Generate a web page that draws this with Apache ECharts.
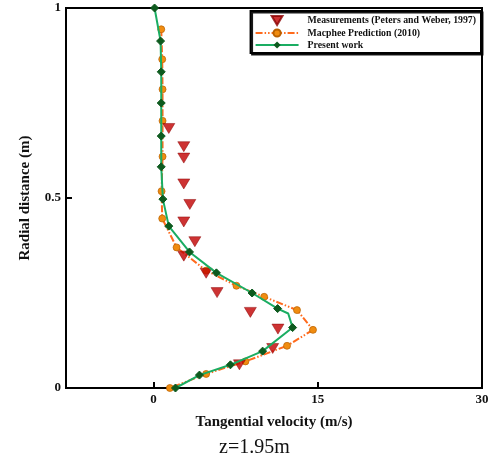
<!DOCTYPE html>
<html>
<head>
<meta charset="utf-8">
<script src="https://cdn.jsdelivr.net/npm/echarts@6/dist/echarts.min.js"></script>
<style>
  html, body { margin: 0; padding: 0; background: #fff; }
  #chart { width: 494px; height: 461px; }
</style>
</head>
<body>
<div id="chart"></div>
<script>
// Tangential velocity profiles at z = 1.95 m
const xTicks = [0, 15, 30];
const yTicks = [0, 0.5, 1];

// Measurements (Peters and Weber, 1997)
const measVel = [1.39, 2.76, 2.76, 2.76, 3.31, 2.76, 3.77, 2.76, 4.8, 5.8, 8.84, 11.36, 10.88, 7.84];
const measR   = [0.683, 0.635, 0.605, 0.537, 0.483, 0.437, 0.385, 0.347, 0.302, 0.251, 0.199, 0.155, 0.104, 0.061];

// Macphee prediction (2010)
const macVel = [0.70, 0.79, 0.82, 0.82, 0.82, 0.73, 0.79, 2.1, 4.8, 7.57, 10.1, 13.1, 14.56, 12.19, 8.39, 4.8, 1.49];
const macR   = [0.944, 0.865, 0.786, 0.703, 0.609, 0.518, 0.446, 0.37, 0.309, 0.269, 0.240, 0.205, 0.153, 0.111, 0.07, 0.037, 0.0];

// Present work (marked points plus one unmarked bend near the peak)
const presVel    = [0.09, 0.64, 0.70, 0.70, 0.70, 0.70, 0.85, 1.39, 3.28, 5.74, 9.0, 11.33, 12.3, 12.7, 9.96, 7.02, 4.19, 2.0];
const presR      = [1.0, 0.913, 0.832, 0.75, 0.663, 0.582, 0.497, 0.426, 0.358, 0.303, 0.25, 0.209, 0.196, 0.159, 0.097, 0.061, 0.034, 0.0];
const presMarked = [1, 1, 1, 1, 1, 1, 1, 1, 1, 1, 1, 1, 0, 1, 1, 1, 1, 1];

const seriesNames = ['Measurements (Peters and Weber, 1997)', 'Macphee Prediction (2010)', 'Present work'];

const serif = '"Liberation Serif", "DejaVu Serif", serif';

const chart = echarts.init(document.getElementById('chart'), null, { renderer: 'canvas' });

chart.setOption({
  animation: false,
  backgroundColor: '#fff',
  grid: {
    left: 66, right: 12, top: 8, bottom: 73,
    show: true, borderColor: '#000', borderWidth: 2, backgroundColor: 'transparent'
  },
  legend: {
    orient: 'vertical',
    right: 13, top: 11,
    padding: [4, 5, 3, 4],
    itemGap: 2,
    itemWidth: 43, itemHeight: 9,
    backgroundColor: '#fff',
    borderColor: '#000', borderWidth: 2,
    shadowColor: 'rgba(0,0,0,0.9)', shadowOffsetX: 1.5, shadowOffsetY: 1.5,
    textStyle: { fontFamily: serif, fontWeight: 'bold', fontSize: 9.8, color: '#111', padding: [0, 0, 0, 4] },
    data: [
      { name: seriesNames[0], icon: 'path://M0,0L12,0L6,10Z', symbolRotate: 0 },
      seriesNames[1],
      seriesNames[2]
    ]
  },
  xAxis: {
    type: 'value',
    min: -8, max: 30,
    name: 'Tangential velocity (m/s)',
    nameLocation: 'middle',
    nameGap: 27,
    nameTextStyle: { fontFamily: serif, fontWeight: 'bold', fontSize: 15, color: '#111' },
    axisLine: { show: true, onZero: false, lineStyle: { color: '#000', width: 2 } },
    axisTick: { show: true, inside: true, length: 6, customValues: xTicks, lineStyle: { color: '#000', width: 2 } },
    axisLabel: { customValues: xTicks, fontFamily: serif, fontWeight: 'bold', fontSize: 13, color: '#111', margin: 5 },
    splitLine: { show: false }
  },
  yAxis: {
    type: 'value',
    min: 0, max: 1, interval: 0.5,
    name: 'Radial distance (m)',
    nameLocation: 'middle',
    nameGap: 33,
    nameRotate: 90,
    nameTextStyle: { fontFamily: serif, fontWeight: 'bold', fontSize: 15, color: '#111' },
    axisLine: { show: true, onZero: false, lineStyle: { color: '#000', width: 2 } },
    axisTick: { show: true, inside: true, length: 6, lineStyle: { color: '#000', width: 2 } },
    axisLabel: {
      fontFamily: serif, fontWeight: 'bold', fontSize: 13, color: '#111', margin: 5,
      formatter: v => (yTicks.includes(v) ? String(v) : '')
    },
    splitLine: { show: false }
  },
  graphic: [{
    type: 'text',
    left: 219, top: 438,
    style: { text: 'z=1.95m', fontFamily: serif, fontSize: 20, fill: '#111' }
  }],
  series: [
    {
      name: seriesNames[0],
      type: 'scatter',
      symbol: 'triangle',
      symbolRotate: 180,
      symbolSize: [12, 10],
      symbolKeepAspect: true,
      itemStyle: { color: '#c00000', borderColor: '#8a0000', borderWidth: 0.6 },
      data: measVel.map((v, i) => [v, measR[i]]),
      z: 3
    },
    {
      name: seriesNames[1],
      type: 'line',
      symbol: 'circle',
      symbolSize: 7,
      showAllSymbol: true,
      lineStyle: { color: '#ff6a1c', width: 2, type: [7, 2, 1.5, 2, 1.5, 2] },
      itemStyle: { color: '#f08c10', borderColor: '#b86000', borderWidth: 0.7 },
      data: macVel.map((v, i) => [v, macR[i]]),
      z: 2
    },
    {
      name: seriesNames[2],
      type: 'line',
      symbol: 'diamond',
      symbolSize: 8,
      showAllSymbol: true,
      lineStyle: { color: '#1aad62', width: 2 },
      itemStyle: { color: '#0d5a1e', borderColor: '#0d5a1e' },
      data: presVel.map((v, i) => (presMarked[i]
        ? [v, presR[i]]
        : { value: [v, presR[i]], symbol: 'none' })),
      z: 4
    }
  ]
});
</script>
</body>
</html>
